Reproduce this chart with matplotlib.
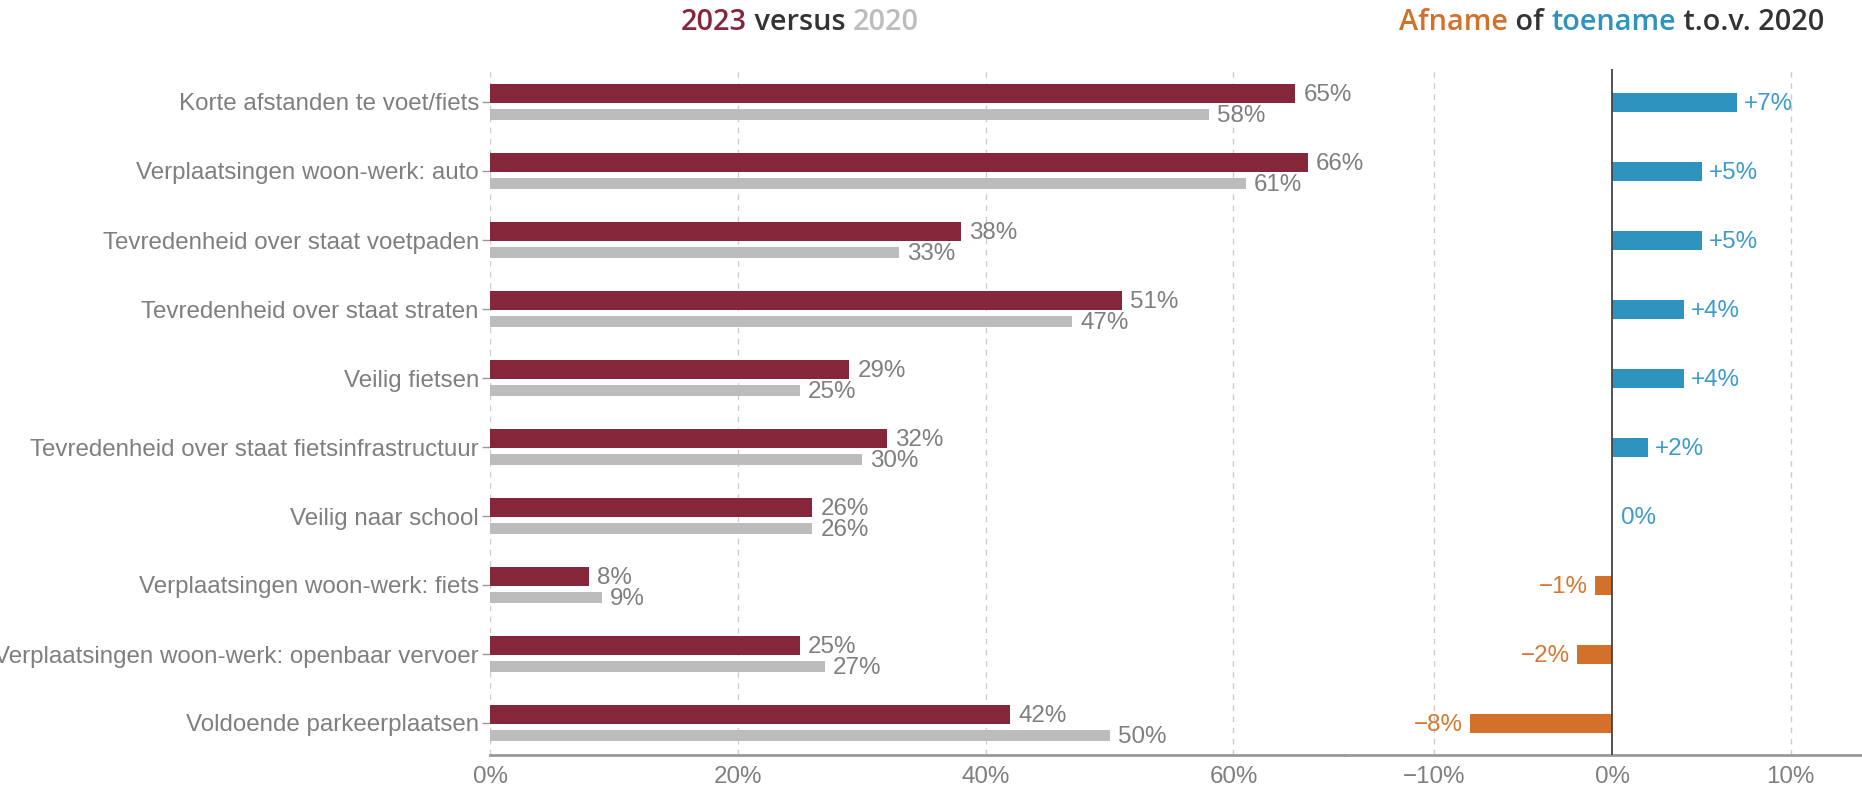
import matplotlib
matplotlib.use("Agg")
import matplotlib.pyplot as plt
import numpy as np

categories = [
    "Korte afstanden te voet/fiets",
    "Verplaatsingen woon-werk: auto",
    "Tevredenheid over staat voetpaden",
    "Tevredenheid over staat straten",
    "Veilig fietsen",
    "Tevredenheid over staat fietsinfrastructuur",
    "Veilig naar school",
    "Verplaatsingen woon-werk: fiets",
    "Verplaatsingen woon-werk: openbaar vervoer",
    "Voldoende parkeerplaatsen",
]
v2023 = [65, 66, 38, 51, 29, 32, 26, 8, 25, 42]
v2020 = [58, 61, 33, 47, 25, 30, 26, 9, 27, 50]
diff = [7, 5, 5, 4, 4, 2, 0, -1, -2, -8]
left_ticks = [0, 20, 40, 60]
right_ticks = [-10, 0, 10]

C23 = "#85263a"
C20 = "#bcbcbc"
CBLUE = "#2e93bf"
CORANGE = "#d3702a"
TBLUE = "#3d9bcb"
TORANGE = "#d6782f"
TGRAY = "#7f7f7f"
TDARK = "#333333"

FONT = "Liberation Sans"
FS = 17.4

W, H = 1862, 789
fig = plt.figure(figsize=(W / 100, H / 100), dpi=100)

top_px, bot_px = 69, 755
row0, rowh = 102, 69
ylo = (bot_px - row0) / rowh
yhi = (top_px - row0) / rowh

axL = fig.add_axes([490 / W, 1 - bot_px / H, 855 / W, (bot_px - top_px) / H])
axR = fig.add_axes([1345 / W, 1 - bot_px / H, 517 / W, (bot_px - top_px) / H])

y = np.arange(len(categories))
h23 = 19 / rowh
h20 = 10.5 / rowh
o23 = (93.5 - row0) / rowh
o20 = (114.3 - row0) / rowh

# left panel
axL.barh(y + o23, v2023, height=h23, color=C23, zorder=3)
axL.barh(y + o20, v2020, height=h20, color=C20, zorder=3)
for i in range(len(categories)):
    axL.annotate(f"{v2023[i]}%", (v2023[i], y[i] + o23), xytext=(6, -1),
                 textcoords="offset points", ha="left", va="center",
                 fontsize=FS, color=TGRAY, family=FONT)
    axL.annotate(f"{v2020[i]}%", (v2020[i], y[i] + o20), xytext=(6, -1.5),
                 textcoords="offset points", ha="left", va="center",
                 fontsize=FS, color=TGRAY, family=FONT)

axL.set_xlim(0, 69)
axL.set_ylim(ylo, yhi)
axL.set_yticks(y)
axL.set_yticklabels(categories, fontsize=FS, color=TGRAY, family=FONT)
axL.set_xticks(left_ticks)
axL.set_xticklabels([f"{t}%" for t in left_ticks], fontsize=FS, color=TGRAY, family=FONT)
axL.tick_params(axis="y", length=6, width=1, color="#999999", pad=2)
axL.tick_params(axis="x", length=0, pad=8)
for t in left_ticks:
    axL.axvline(t, color="#cccccc", lw=1, ls=(0, (4, 4)), zorder=1)

# right panel
cols = [CBLUE if d >= 0 else CORANGE for d in diff]
axR.barh(y, diff, height=h23, color=cols, zorder=3)
for i, d in enumerate(diff):
    if d > 0:
        lab, ha, off, c = f"+{d}%", "left", 5, TBLUE
    elif d == 0:
        lab, ha, off, c = "0%", "left", 6, TBLUE
    else:
        lab, ha, off, c = f"\u2212{-d}%", "right", -5, TORANGE
    axR.annotate(lab, (d, y[i]), xytext=(off, -1.5), textcoords="offset points",
                 ha=ha, va="center", fontsize=FS, color=c, family=FONT)
axR.set_xlim(-15, 14)
axR.set_ylim(ylo, yhi)
axR.set_yticks([])
axR.set_xticks(right_ticks)
axR.set_xticklabels([("\u2212" if t < 0 else "") + f"{abs(t)}%" for t in right_ticks],
                    fontsize=FS, color=TGRAY, family=FONT)
axR.tick_params(axis="x", length=0, pad=8)
for t in right_ticks:
    if t != 0:
        axR.axvline(t, color="#cccccc", lw=1, ls=(0, (4, 4)), zorder=1)
axR.axvline(0, color="#444444", lw=1.3, zorder=4)

for ax in (axL, axR):
    for s in ("top", "right", "left"):
        ax.spines[s].set_visible(False)
    ax.spines["bottom"].set_color("#999999")
    ax.spines["bottom"].set_linewidth(2)
    ax.patch.set_alpha(0)


def multicolor(fig, parts, x_px, y_px, ha, fs, family, weight):
    fig.canvas.draw()
    r = fig.canvas.get_renderer()
    texts = []
    widths = []
    for s, c in parts:
        t = fig.text(0, 0, s, fontsize=fs, color=c, family=family, weight=weight,
                     ha="left", va="center")
        texts.append(t)
        widths.append(t.get_window_extent(r).width)
    total = sum(widths)
    if ha == "center":
        x0 = x_px - total / 2
    elif ha == "right":
        x0 = x_px - total
    else:
        x0 = x_px
    for t, w in zip(texts, widths):
        t.set_position((x0 / W, 1 - y_px / H))
        x0 += w


TFONT = "Open Sans"
TFS = 20.8
TW = "semibold"
multicolor(fig, [("2023", C23), (" versus ", TDARK), ("2020", C20)],
           800, 22, "center", TFS, TFONT, TW)
multicolor(fig, [("Afname", CORANGE), (" of ", TDARK), ("toename", CBLUE),
                 (" t.o.v. 2020", TDARK)],
           1824, 22, "right", TFS, TFONT, TW)

fig.savefig("out.png", dpi=100)
